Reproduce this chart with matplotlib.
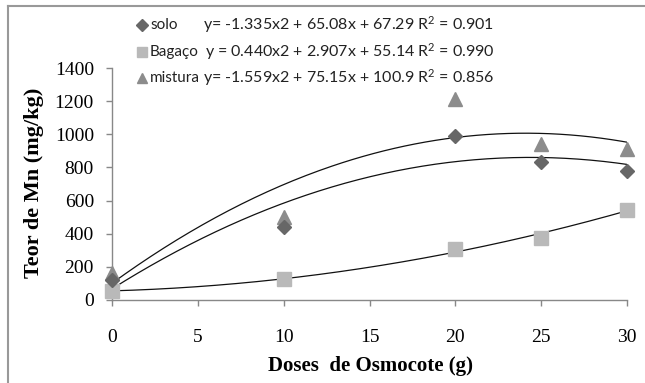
import numpy as np
import matplotlib
matplotlib.use("Agg")
import matplotlib.pyplot as plt
from matplotlib.lines import Line2D

doses = [0, 10, 20, 25, 30]
solo = [120, 440, 990, 835, 780]
bagaco = [55, 125, 305, 375, 545]
mistura = [160, 500, 1210, 940, 910]

coef_solo = [-1.335, 65.08, 67.29]
coef_bagaco = [0.440, 2.907, 55.14]
coef_mistura = [-1.559, 75.15, 100.9]

names = ["solo", "Bagaço", "mistura"]
equations = ["y= -1.335x2 + 65.08x + 67.29 R$^2$ = 0.901",
             "y = 0.440x2 + 2.907x + 55.14 R$^2$ = 0.990",
             "y= -1.559x2 + 75.15x + 100.9 R$^2$ = 0.856"]
xticks = [0, 5, 10, 15, 20, 25, 30]
yticks = [0, 200, 400, 600, 800, 1000, 1200, 1400]

leg_font = "Lato"

plt.rcParams['mathtext.default'] = 'regular'
W, H = 645, 383
fig = plt.figure(figsize=(W/100, H/100), dpi=100)
ax = fig.add_axes([112/W, 1-300/H, (627-112)/W, (300-68)/H])

c_solo, c_bag, c_mis = "#676767", "#b9b9b9", "#8c8c8c"

xs = np.linspace(0, 30, 200)
for coef in (coef_mistura, coef_solo, coef_bagaco):
    ax.plot(xs, np.polyval(coef, xs), color="#111111", lw=0.9, zorder=2)

ax.plot(doses, bagaco, ls="none", marker="s", ms=10, color=c_bag, mec=c_bag, clip_on=False, zorder=3)
ax.plot(doses, mistura, ls="none", marker="^", ms=10.5, color=c_mis, mec=c_mis, clip_on=False, zorder=3)
ax.plot(doses, solo, ls="none", marker="D", ms=7.5, color=c_solo, mec=c_solo, clip_on=False, zorder=4)

ax.set_xlim(0, 30)
ax.set_ylim(0, 1400)
ax.set_xticks(xticks)
ax.set_yticks(yticks)
for s in ("top", "right"):
    ax.spines[s].set_visible(False)
for s in ("left", "bottom"):
    ax.spines[s].set_color("#888888")
    ax.spines[s].set_linewidth(1.0)
ax.tick_params(axis="both", color="#888888", length=4, width=1.0, direction="out")
ax.tick_params(axis="x", pad=17, labelsize=14)
ax.tick_params(axis="y", pad=9, labelsize=14)
for lab in ax.get_xticklabels() + ax.get_yticklabels():
    lab.set_fontfamily("Liberation Serif")

fig.text(34/W, 1-183/H, "Teor de Mn (mg/kg)", rotation=90, ha="center", va="center",
         family="Liberation Serif", fontweight="bold", fontsize=16)
fig.text(370/W, 1-366/H, "Doses  de Osmocote (g)", ha="center", va="center",
         family="Liberation Serif", fontweight="bold", fontsize=15)

# legend
markers = [("D", c_solo, 6), ("s", c_bag, 7), ("^", c_mis, 7.5)]
rows = [25, 52, 78]
eq_x = [203, 205, 203]
for (m, c, ms), name, eq, yr, ex in zip(markers, names, equations, rows, eq_x):
    fig.add_artist(Line2D([142/W], [1-yr/H], marker=m, color=c, mec=c, ms=ms, ls="none",
                          transform=fig.transFigure))
    fig.text(150/W, 1-yr/H, name, ha="left", va="center", family=leg_font, fontsize=11,
             color="#222222")
    fig.text(ex/W, 1-yr/H, eq, ha="left", va="center", family=leg_font, fontsize=11.5,
             color="#222222")

# frame
fig.add_artist(Line2D([8/W, 8/W], [0, 1-6/H], color="#999999", lw=1.5, transform=fig.transFigure))
fig.add_artist(Line2D([8/W, 1], [1-6/H, 1-6/H], color="#999999", lw=1.5, transform=fig.transFigure))

fig.savefig("out.png", dpi=100)
